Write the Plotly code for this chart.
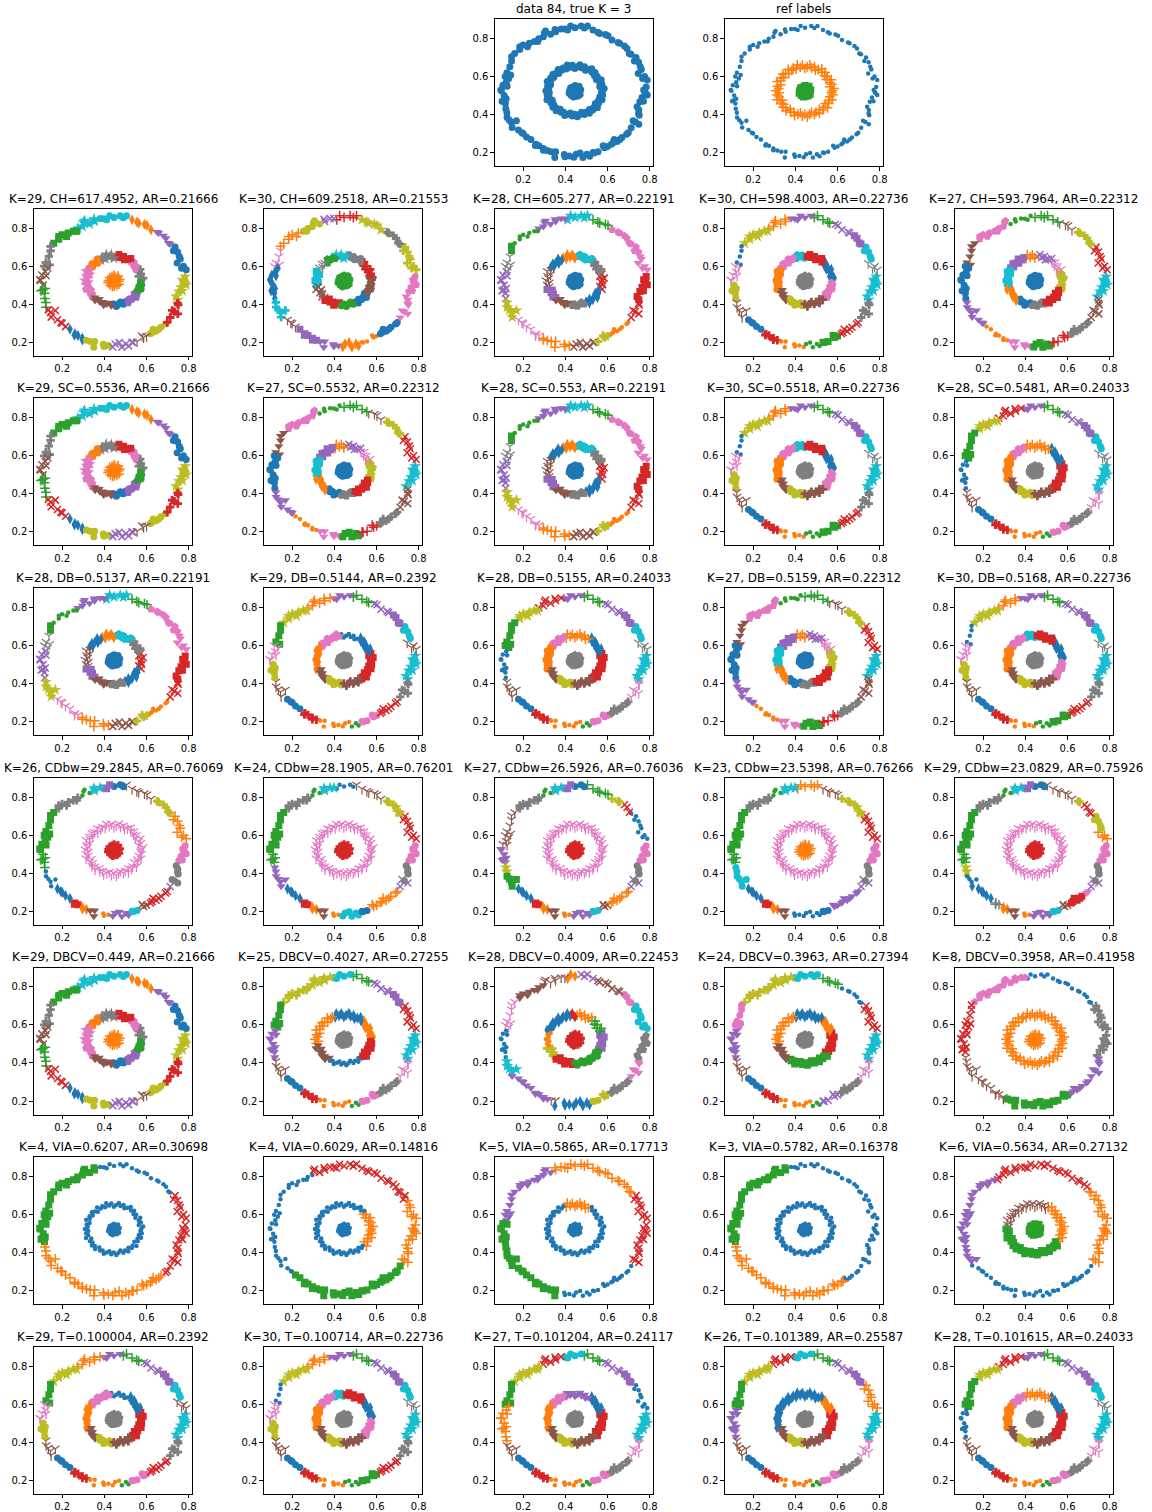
import numpy as np
import plotly.graph_objects as go

# ---------------- data ----------------
outer_x = [0.771, 0.788, 0.766, 0.745, 0.760, 0.755, 0.747, 0.727, 0.711, 0.703, 0.692, 0.657, 0.650, 0.621,
           0.602, 0.563, 0.554, 0.531, 0.505, 0.475, 0.446, 0.425, 0.411, 0.398, 0.354, 0.351, 0.306, 0.301,
           0.296, 0.274, 0.269, 0.253, 0.229, 0.221, 0.184, 0.184, 0.145, 0.145, 0.137, 0.123, 0.141, 0.132,
           0.120, 0.104, 0.124, 0.094, 0.097, 0.120, 0.108, 0.100, 0.116, 0.123, 0.124, 0.145, 0.168, 0.148,
           0.194, 0.200, 0.216, 0.237, 0.258, 0.261, 0.296, 0.296, 0.333, 0.350, 0.354, 0.395, 0.398, 0.419,
           0.451, 0.470, 0.483, 0.502, 0.531, 0.536, 0.555, 0.586, 0.579, 0.618, 0.626, 0.631, 0.658, 0.668,
           0.690, 0.698, 0.748, 0.732, 0.721, 0.750, 0.747, 0.748, 0.753, 0.763, 0.788, 0.780, 0.776,
           0.783, 0.775, 0.735, 0.680, 0.590, 0.490, 0.380, 0.330, 0.200, 0.160, 0.115, 0.110, 0.118, 0.135,
           0.178, 0.275, 0.315, 0.440, 0.515, 0.600, 0.645, 0.712, 0.740, 0.770]
outer_y = [0.528, 0.581, 0.589, 0.616, 0.637, 0.651, 0.674, 0.681, 0.716, 0.721, 0.747, 0.774, 0.779, 0.791,
           0.814, 0.826, 0.832, 0.844, 0.865, 0.865, 0.856, 0.865, 0.844, 0.849, 0.835, 0.847, 0.839, 0.830,
           0.809, 0.798, 0.784, 0.784, 0.774, 0.756, 0.756, 0.742, 0.704, 0.681, 0.651, 0.619, 0.607, 0.589,
           0.570, 0.553, 0.549, 0.528, 0.525, 0.482, 0.475, 0.470, 0.458, 0.409, 0.384, 0.356, 0.367, 0.332,
           0.304, 0.300, 0.282, 0.268, 0.237, 0.244, 0.221, 0.212, 0.204, 0.174, 0.204, 0.189, 0.177, 0.182,
           0.191, 0.198, 0.174, 0.191, 0.200, 0.198, 0.204, 0.225, 0.235, 0.244, 0.251, 0.268, 0.268, 0.279,
           0.296, 0.304, 0.349, 0.361, 0.367, 0.396, 0.405, 0.423, 0.467, 0.489, 0.502, 0.511, 0.519,
           0.545, 0.600, 0.700, 0.760, 0.820, 0.855, 0.850, 0.822, 0.765, 0.720, 0.600, 0.500, 0.430, 0.370,
           0.318, 0.235, 0.210, 0.175, 0.180, 0.232, 0.258, 0.330, 0.440, 0.470]

mid_x = [0.575, 0.584, 0.563, 0.573, 0.563, 0.570, 0.547, 0.551, 0.538, 0.541, 0.526, 0.525, 0.509, 0.495,
         0.491, 0.477, 0.469, 0.456, 0.445, 0.433, 0.423, 0.409, 0.404, 0.390, 0.383, 0.366, 0.369, 0.354,
         0.341, 0.345, 0.330, 0.331, 0.314, 0.330, 0.316, 0.321, 0.308, 0.324, 0.314, 0.323, 0.313, 0.338,
         0.332, 0.344, 0.341, 0.355, 0.356, 0.376, 0.379, 0.392, 0.397, 0.412, 0.424, 0.433, 0.445, 0.457,
         0.467, 0.476, 0.490, 0.498, 0.514, 0.514, 0.530, 0.534, 0.552, 0.542, 0.558, 0.557, 0.574, 0.563,
         0.577, 0.571]
mid_y = [0.525, 0.537, 0.546, 0.559, 0.568, 0.583, 0.584, 0.600, 0.603, 0.621, 0.622, 0.640, 0.636, 0.633,
         0.651, 0.645, 0.661, 0.651, 0.642, 0.659, 0.648, 0.660, 0.639, 0.644, 0.632, 0.637, 0.615, 0.616,
         0.612, 0.595, 0.592, 0.578, 0.573, 0.556, 0.548, 0.536, 0.525, 0.514, 0.502, 0.492, 0.477, 0.475,
         0.460, 0.454, 0.438, 0.435, 0.419, 0.427, 0.411, 0.412, 0.394, 0.401, 0.408, 0.392, 0.401, 0.388,
         0.400, 0.411, 0.400, 0.412, 0.406, 0.426, 0.424, 0.436, 0.435, 0.457, 0.460, 0.473, 0.478, 0.493,
         0.502, 0.514]

blob_x = [0.445, 0.432, 0.458, 0.440, 0.455, 0.425, 0.468, 0.450, 0.436, 0.462, 0.420, 0.470, 0.428,
          0.447, 0.460, 0.433, 0.452, 0.441, 0.418, 0.473, 0.446, 0.425, 0.465, 0.438, 0.455]
blob_y = [0.520, 0.530, 0.532, 0.505, 0.508, 0.515, 0.520, 0.545, 0.545, 0.540, 0.525, 0.505, 0.500,
          0.495, 0.497, 0.518, 0.526, 0.536, 0.512, 0.530, 0.552, 0.540, 0.548, 0.492, 0.518]

# cluster labelling: (start angle in degrees, colour digit + matplotlib marker) per ring
LAB = {
    "data": ([(0, "0o")], [(0, "0o")], "0o"),
    "ref": ([(0, "0.")], [(0, "1+")], "2s"),
    "L1": ([(0, "8*"), (8, "0o"), (35, "4v"), (52, "1d"), (76, "9o"), (102, "9*"), (123, "2s"), (148, "7P"),
            (167, "5x"), (184, "2+"), (203, "3x"), (228, "0d"), (245, "8o"), (268, "4x"), (288, "51"),
            (300, "8o"), (318, "3P"), (342, "8*")],
           [(0, "7P"), (25, "6p"), (52, "3s"), (88, "7*"), (122, "1o"), (155, "6*"), (192, "6p"), (225, "5v"),
            (265, "0o"), (298, "4p"), (332, "2o"), (358, "7P")], "1+"),
    "L2": ([(0, "6p"), (8, "8P"), (33, "7P"), (52, "8*"), (77, "3+"), (97, "4x"), (110, "8o"), (128, "1+"),
            (149, "61"), (167, "0d"), (197, "9P"), (214, "51"), (230, "4s"), (249, "4v"), (266, "1d"),
            (285, "1."), (300, "0o"), (320, "6v"), (346, "6p")],
           [(0, "5p"), (12, "3P"), (50, "7o"), (83, "9*"), (107, "2p"), (133, "71"), (157, "9s"), (195, "5x"),
            (227, "3s"), (263, "2o"), (293, "0o"), (328, "5p")], "2h"),
    "L3": ([(0, "3s"), (8, "6v"), (27, "6p"), (58, "2+"), (77, "9*"), (97, "4v"), (122, "2."), (145, "2s"),
            (156, "71"), (171, "4x"), (197, "8*"), (216, "61"), (240, "1+"), (267, "5x"), (286, "8P"),
            (300, "1."), (322, "3x"), (342, "3s")],
           [(0, "3x"), (18, "7P"), (52, "9h"), (86, "1d"), (117, "0d"), (155, "51"), (197, "4s"), (226, "5v"),
            (263, "7p"), (292, "0d"), (338, "3x")], "0o"),
    "L4": ([(0, "9*"), (7, "71"), (19, "9o"), (34, "4s"), (49, "4x"), (65, "2+"), (84, "4v"), (103, "1+"),
            (123, "8*"), (147, "0."), (166, "61"), (181, "8h"), (198, "51"), (216, "0o"), (236, "3P"),
            (249, "1."), (270, "2."), (284, "2s"), (299, "3x"), (320, "7P"), (342, "9*")],
           [(0, "0d"), (50, "3s"), (87, "9o"), (112, "6p"), (150, "1o"), (202, "5v"), (232, "8o"), (268, "5P"),
            (315, "6p")], "7p"),
    "L5": ([(0, "9*"), (9, "3x"), (33, "8P"), (52, "51"), (70, "2+"), (92, "2."), (113, "6p"), (143, "5v"),
            (165, "0o"), (197, "4v"), (226, "1."), (250, "6v"), (266, "2s"), (284, "3+"), (302, "7P"),
            (320, "5x"), (343, "9*")],
           [(0, "8p"), (22, "61"), (52, "4x"), (87, "1+"), (113, "4s"), (155, "9h"), (198, "1d"), (232, "0o"),
            (264, "7p"), (292, "3s"), (337, "8p")], "0o"),
    "L6": ([(0, "9*"), (7, "71"), (19, "9o"), (34, "4s"), (49, "4x"), (65, "2+"), (84, "4v"), (100, "3x"),
            (122, "8*"), (142, "2s"), (169, "0."), (197, "51"), (216, "0o"), (236, "3P"), (249, "1."),
            (276, "2."), (283, "6o"), (299, "7P"), (320, "61"), (342, "9*")],
           [(0, "3s"), (17, "0d"), (57, "1+"), (112, "6p"), (148, "1o"), (202, "5v"), (233, "8o"), (266, "5P"),
            (305, "3s")], "7p"),
    "L7": ([(0, "9*"), (7, "51"), (19, "9o"), (34, "4s"), (49, "4x"), (65, "2+"), (84, "4v"), (101, "1+"),
            (122, "8*"), (146, "2s"), (166, "61"), (181, "8h"), (198, "51"), (216, "0o"), (236, "3P"),
            (249, "1."), (276, "2."), (283, "6o"), (299, "3x"), (320, "7P"), (342, "9*")],
           [(0, "3s"), (17, "0d"), (57, "0."), (98, "6p"), (148, "1d"), (202, "5v"), (233, "8o"), (266, "5P"),
            (308, "3s")], "7p"),
    "L8": ([(0, "6o"), (10, "1+"), (36, "8P"), (53, "51"), (82, "0o"), (93, "4s"), (101, "9*"), (109, "2."),
            (121, "7P"), (144, "2s"), (181, "2+"), (197, "0."), (214, "0d"), (234, "3s"), (241, "1d"),
            (249, "5v"), (258, "1."), (267, "4v"), (283, "9o"), (293, "5x"), (301, "3x"), (320, "4x"),
            (330, "7o"), (346, "6o")],
           [(0, "61")], "3P"),
    "L9": ([(0, "6o"), (10, "3x"), (34, "8*"), (44, "8P"), (53, "51"), (82, "0."), (98, "9*"), (109, "2."),
            (121, "7P"), (144, "2s"), (181, "2+"), (193, "4v"), (213, "0d"), (234, "3s"), (241, "1d"),
            (249, "5v"), (258, "1."), (267, "9o"), (283, "0o"), (290, "1+"), (320, "4x"), (331, "7o"),
            (346, "6o")],
           [(0, "61")], "3P"),
    "L10": ([(0, "6o"), (9, "0."), (37, "3x"), (49, "8P"), (57, "2+"), (82, "0o"), (93, "4s"), (101, "9*"),
             (109, "2."), (121, "7P"), (144, "51"), (178, "4v"), (193, "8*"), (200, "2s"), (213, "0d"),
             (234, "3s"), (241, "1d"), (249, "5v"), (258, "1."), (267, "4v"), (283, "9o"), (291, "5x"),
             (299, "1+"), (320, "4x"), (331, "7o"), (346, "6o")],
            [(0, "61")], "3P"),
    "L11": ([(0, "6o"), (10, "3x"), (34, "8*"), (44, "8P"), (58, "51"), (78, "1+"), (98, "9*"), (109, "2."),
             (121, "7P"), (144, "2s"), (181, "2+"), (193, "9o"), (213, "0d"), (234, "3s"), (241, "1d"),
             (249, "5v"), (258, "0."), (283, "0o"), (290, "4v"), (320, "4x"), (331, "7o"), (346, "6o")],
            [(0, "61")], "1+"),
    "L12": ([(0, "6o"), (7, "1+"), (19, "8o"), (34, "3x"), (49, "8P"), (56, "51"), (82, "0o"), (93, "4s"),
             (100, "9*"), (109, "2."), (121, "7P"), (144, "2s"), (181, "2+"), (193, "8*"), (200, "0."),
             (211, "0d"), (234, "7+"), (241, "1d"), (249, "5v"), (258, "1."), (267, "4v"), (283, "9o"),
             (292, "5x"), (300, "3s"), (315, "6v"), (321, "4x"), (331, "7o"), (346, "6o")],
            [(0, "61")], "3P"),
    "L13": ([(0, "9*"), (8, "3x"), (34, "4s"), (49, "4x"), (65, "2+"), (83, "9o"), (101, "8*"), (121, "8P"),
             (146, "2s"), (168, "4v"), (197, "51"), (216, "0o"), (236, "3P"), (249, "1."), (276, "2."),
             (283, "6o"), (299, "7P"), (320, "61"), (342, "9*")],
            [(0, "1d"), (50, "0d"), (112, "1+"), (195, "5v"), (238, "0."), (312, "3s")], "7p"),
    "L14": ([(0, "7p"), (10, "9o"), (34, "6o"), (47, "5x"), (73, "4x"), (86, "1d"), (98, "51"), (115, "5v"),
             (143, "61"), (170, "0."), (197, "9*"), (212, "4v"), (248, "51"), (254, "0d"), (282, "8o"),
             (290, "8P"), (300, "7P"), (320, "6v"), (342, "7p")],
            [(0, "4s"), (18, "2+"), (53, "1+"), (86, "3d"), (100, "0d"), (162, "1."), (198, "8P"), (227, "3s"),
             (267, "2o"), (332, "4s")], "3P"),
    "L15": ([(0, "9*"), (8, "3x"), (34, "0."), (60, "2+"), (77, "9o"), (101, "8*"), (121, "8P"), (146, "6o"),
             (168, "4v"), (197, "51"), (216, "0o"), (236, "3P"), (249, "1."), (276, "2."), (283, "4x"),
             (299, "7P"), (320, "61"), (342, "9*")],
            [(0, "3s"), (18, "1d"), (52, "0d"), (112, "1+"), (195, "5v"), (236, "2s"), (322, "3s")], "7p"),
    "L16": ([(0, "7P"), (32, "0."), (98, "6p"), (147, "3x"), (193, "51"), (247, "2s"), (301, "4v"), (343, "7P")],
            [(0, "1+")], "1+"),
    "L17": ([(0, "3x"), (32, "0."), (102, "2s"), (193, "1+"), (316, "3x")], [(0, "0.")], "0."),
    "L18": ([(0, "1+"), (28, "3x"), (115, "0."), (226, "2s"), (326, "1+")],
            [(0, "1+"), (42, "0."), (318, "1+")], "0."),
    "L19": ([(0, "3x"), (34, "1+"), (107, "4v"), (172, "2s"), (258, "0."), (330, "3x")],
            [(0, "0."), (58, "1+"), (112, "0.")], "0."),
    "L20": ([(0, "0."), (102, "2s"), (193, "1+"), (306, "0.")], [(0, "0.")], "0."),
    "L21": ([(0, "1+"), (38, "3x"), (124, "4v"), (211, "0."), (329, "1+")],
            [(0, "1+"), (62, "51"), (177, "2s"), (325, "1+")], "2s"),
    "L22": ([(0, "9*"), (7, "0."), (34, "4s"), (49, "4x"), (65, "2+"), (83, "9o"), (101, "3x"), (121, "8*"),
             (146, "2s"), (167, "1+"), (200, "51"), (216, "0o"), (236, "3P"), (249, "1."), (276, "2."),
             (283, "6o"), (299, "7P"), (320, "61"), (342, "9*")],
            [(0, "3s"), (17, "0d"), (57, "4v"), (112, "6p"), (148, "1d"), (202, "5v"), (233, "8o"), (266, "5P"),
             (318, "3s")], "7p"),
    "L23": ([(0, "9*"), (7, "1+"), (34, "4s"), (49, "4x"), (65, "2+"), (83, "9o"), (101, "3x"), (121, "8*"),
             (146, "2s"), (168, "4v"), (197, "51"), (216, "0o"), (236, "3P"), (249, "1."), (276, "2."),
             (283, "6o"), (299, "7P"), (320, "61"), (342, "9*")],
            [(0, "3s"), (17, "1d"), (55, "0d"), (200, "5v"), (233, "8o"), (266, "5P"), (318, "3s")], "7p"),
}

# panels: (row, col, title, labelling)
PANELS = [
    (0, 2, "data 84, true K = 3", "data"), (0, 3, "ref labels", "ref"),
    (1, 0, "K=29, CH=617.4952, AR=0.21666", "L1"), (1, 1, "K=30, CH=609.2518, AR=0.21553", "L2"),
    (1, 2, "K=28, CH=605.277, AR=0.22191", "L3"), (1, 3, "K=30, CH=598.4003, AR=0.22736", "L4"),
    (1, 4, "K=27, CH=593.7964, AR=0.22312", "L5"),
    (2, 0, "K=29, SC=0.5536, AR=0.21666", "L1"), (2, 1, "K=27, SC=0.5532, AR=0.22312", "L5"),
    (2, 2, "K=28, SC=0.553, AR=0.22191", "L3"), (2, 3, "K=30, SC=0.5518, AR=0.22736", "L4"),
    (2, 4, "K=28, SC=0.5481, AR=0.24033", "L6"),
    (3, 0, "K=28, DB=0.5137, AR=0.22191", "L3"), (3, 1, "K=29, DB=0.5144, AR=0.2392", "L7"),
    (3, 2, "K=28, DB=0.5155, AR=0.24033", "L6"), (3, 3, "K=27, DB=0.5159, AR=0.22312", "L5"),
    (3, 4, "K=30, DB=0.5168, AR=0.22736", "L4"),
    (4, 0, "K=26, CDbw=29.2845, AR=0.76069", "L8"), (4, 1, "K=24, CDbw=28.1905, AR=0.76201", "L9"),
    (4, 2, "K=27, CDbw=26.5926, AR=0.76036", "L10"), (4, 3, "K=23, CDbw=23.5398, AR=0.76266", "L11"),
    (4, 4, "K=29, CDbw=23.0829, AR=0.75926", "L12"),
    (5, 0, "K=29, DBCV=0.449, AR=0.21666", "L1"), (5, 1, "K=25, DBCV=0.4027, AR=0.27255", "L13"),
    (5, 2, "K=28, DBCV=0.4009, AR=0.22453", "L14"), (5, 3, "K=24, DBCV=0.3963, AR=0.27394", "L15"),
    (5, 4, "K=8, DBCV=0.3958, AR=0.41958", "L16"),
    (6, 0, "K=4, VIA=0.6207, AR=0.30698", "L17"), (6, 1, "K=4, VIA=0.6029, AR=0.14816", "L18"),
    (6, 2, "K=5, VIA=0.5865, AR=0.17713", "L19"), (6, 3, "K=3, VIA=0.5782, AR=0.16378", "L20"),
    (6, 4, "K=6, VIA=0.5634, AR=0.27132", "L21"),
    (7, 0, "K=29, T=0.100004, AR=0.2392", "L7"), (7, 1, "K=30, T=0.100714, AR=0.22736", "L4"),
    (7, 2, "K=27, T=0.101204, AR=0.24117", "L22"), (7, 3, "K=26, T=0.101389, AR=0.25587", "L23"),
    (7, 4, "K=28, T=0.101615, AR=0.24033", "L6"),
]

TICKS = [0.2, 0.4, 0.6, 0.8]
TICK_TEXT = ["0.2", "0.4", "0.6", "0.8"]

# ---------------- styling ----------------
TAB10 = ["#1f77b4", "#ff7f0e", "#2ca02c", "#d62728", "#9467bd",
         "#8c564b", "#e377c2", "#7f7f7f", "#bcbd22", "#17becf"]
# matplotlib marker -> (plotly symbol, size, line width)
MK = {
    ".": ("circle", 4.5, 0), "o": ("circle", 7, 0), "+": ("cross-thin-open", 7, 1.5),
    "x": ("x-thin-open", 7, 1.5), "s": ("square", 7, 0), "v": ("triangle-down", 8, 0),
    "1": ("y-down-open", 7, 1.2), "p": ("pentagon", 8, 0), "P": ("cross", 7, 0),
    "*": ("star", 9, 0), "h": ("hexagon", 8, 0), "d": ("diamond-tall", 8, 0),
}

W, H = 1152, 1512
COL_L = [34, 265, 497, 728, 959]
BOX_W, BOX_H = 159, 147
ROW_T0, ROW_STEP = 19, 189.7
XR = [0.066, 0.816]
YR = [0.129, 0.902]


def assign(xs, ys, cx, cy, segs):
    ang = np.degrees(np.arctan2(np.asarray(ys) - cy, np.asarray(xs) - cx)) % 360
    starts = np.array([s for s, _ in segs])
    idx = np.searchsorted(starts, ang, side="right") - 1
    return [segs[i][1] for i in idx]


fig = go.Figure()
layout = dict(width=W, height=H, margin=dict(l=0, r=0, t=0, b=0), showlegend=False,
              plot_bgcolor="white", paper_bgcolor="white",
              font=dict(family="DejaVu Sans", size=10, color="black"))
annotations = []

for k, (r, c, title, lab) in enumerate(PANELS, start=1):
    outer_segs, mid_segs, blob_code = LAB[lab]
    codes = (assign(outer_x, outer_y, 0.445, 0.52, outer_segs)
             + assign(mid_x, mid_y, 0.445, 0.525, mid_segs)
             + [blob_code] * len(blob_x))
    xs = outer_x + mid_x + blob_x
    ys = outer_y + mid_y + blob_y
    order = []
    for cd in codes:
        if cd not in order:
            order.append(cd)
    xa = "x" if k == 1 else f"x{k}"
    ya = "y" if k == 1 else f"y{k}"
    for cd in order:
        px = [xs[i] for i in range(len(xs)) if codes[i] == cd]
        py = [ys[i] for i in range(len(ys)) if codes[i] == cd]
        col = TAB10[int(cd[0])]
        sym, size, lw = MK[cd[1]]
        fig.add_trace(go.Scatter(
            x=px, y=py, mode="markers", xaxis=xa, yaxis=ya, hoverinfo="skip",
            marker=dict(symbol=sym, size=size, color=col,
                        line=dict(color=col, width=lw))))
    left = COL_L[c]
    top = ROW_T0 + ROW_STEP * r
    xd = [left / W, (left + BOX_W) / W]
    yd = [1 - (top + BOX_H) / H, 1 - top / H]
    axcommon = dict(showgrid=False, zeroline=False, showline=True, linecolor="black", linewidth=1,
                    mirror=True, ticks="outside", ticklen=3.5, tickwidth=1, tickcolor="black",
                    tickvals=TICKS, ticktext=TICK_TEXT, tickfont=dict(size=10, color="black"))
    layout["xaxis" if k == 1 else f"xaxis{k}"] = dict(domain=xd, range=XR, anchor=ya, **axcommon)
    layout["yaxis" if k == 1 else f"yaxis{k}"] = dict(domain=yd, range=YR, anchor=xa, **axcommon)
    annotations.append(dict(text=title, x=(xd[0] + xd[1]) / 2, y=yd[1], xref="paper", yref="paper",
                            xanchor="center", yanchor="bottom", yshift=1, showarrow=False,
                            font=dict(size=12, color="black", family="DejaVu Sans")))

layout["annotations"] = annotations
fig.update_layout(**layout)
# remove the default 8 px page margin so the figure sits at the window's corner
fig.write_html("out.html", config={"displayModeBar": False},
               post_script="document.body.style.margin='0';")
